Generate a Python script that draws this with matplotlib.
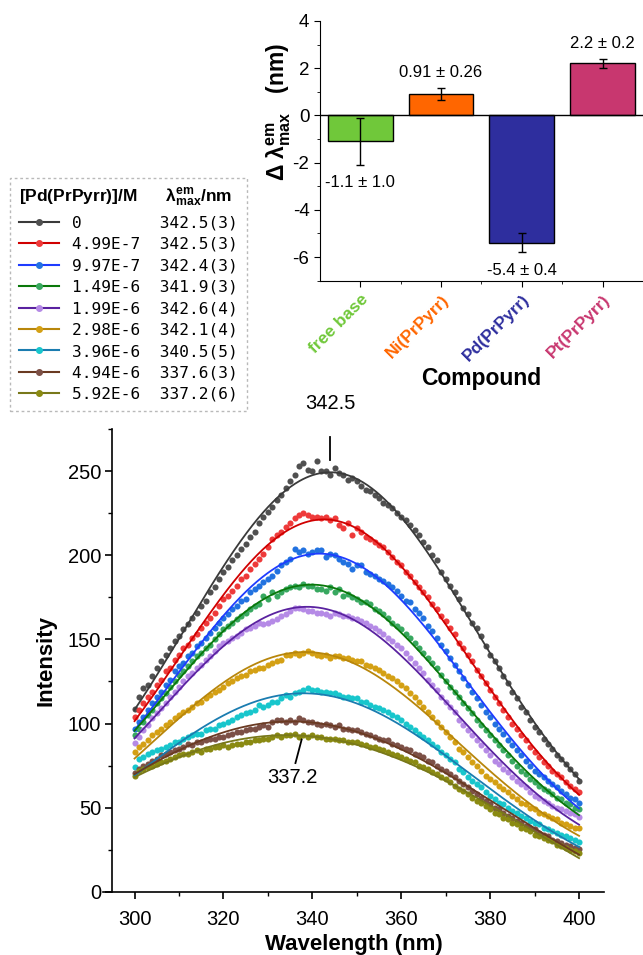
import numpy as np
import matplotlib
matplotlib.use('Agg')
import matplotlib.pyplot as plt
from matplotlib.lines import Line2D

plt.rcParams['font.family'] = ['Liberation Sans', 'DejaVu Sans']
plt.rcParams['mathtext.fontset'] = 'custom'
plt.rcParams['mathtext.rm'] = 'Liberation Sans'
plt.rcParams['mathtext.it'] = 'Liberation Sans:italic'
plt.rcParams['mathtext.bf'] = 'Liberation Sans:bold'
plt.rcParams['axes.unicode_minus'] = False

# ---- emission spectra (Intensity vs wavelength, 1 nm steps) ----
wavelength = np.arange(300, 401)

conc = ['0', '4.99E-7', '9.97E-7', '1.49E-6', '1.99E-6',
        '2.98E-6', '3.96E-6', '4.94E-6', '5.92E-6']
lam_max = ['342.5(3)', '342.5(3)', '342.4(3)', '341.9(3)', '342.6(4)',
           '342.1(4)', '340.5(5)', '337.6(3)', '337.2(6)']

s0 = [108.5, 116, 121, 123, 128, 133, 137, 141, 145, 149,
      152, 156, 159, 163, 166, 170, 173, 178, 181, 186,
      190, 193, 197, 200, 204, 207, 211, 214, 219, 223,
      226, 229, 233, 236, 240, 244, 248, 253, 255, 251,
      250, 256, 250, 250, 248, 252, 249, 248, 245, 246,
      244, 241, 239, 238, 236, 234, 231, 230, 228, 225,
      223, 221, 218, 215, 212, 208, 205, 200, 197, 190,
      186, 182, 178, 174, 169, 165, 160, 157, 152, 146,
      141, 137, 133, 128, 124, 119, 115, 110, 107, 102,
      98, 95, 91, 88, 85, 81, 79, 76, 73, 70, 66]
s1 = [104, 108, 112, 116, 119, 123, 126, 131, 133, 138,
      141, 145, 147, 151, 153, 157, 160, 163, 166, 170,
      174, 176, 179, 182, 186, 188, 192, 195, 198, 201,
      205, 210, 212, 214, 217, 219, 222, 224, 225, 224,
      223, 223, 222, 223, 221, 222, 218, 216, 219, 212,
      216, 214, 211, 210, 208, 206, 205, 202, 199, 196,
      194, 190, 188, 184, 181, 178, 175, 171, 168, 164,
      161, 157, 153, 148, 145, 141, 137, 132, 128, 124,
      120, 116, 112, 108, 104, 100, 97, 93, 90, 86,
      83, 80, 77, 75, 72, 70, 68, 65, 63, 61, 59]
s2 = [96.6, 101, 104, 108, 112, 116, 119, 123, 126, 131,
      134, 136, 140, 142, 146, 148, 151, 154, 157, 160,
      163, 165, 168, 170, 173, 174, 178, 180, 182, 184,
      186, 188, 191, 194, 196, 198, 204, 202, 203, 201,
      202, 203, 203, 199, 201, 200, 198, 196, 195, 192,
      194, 194, 190, 189, 188, 186, 185, 183, 181, 179,
      176, 173, 172, 168, 166, 163, 158, 155, 151, 147,
      143, 139, 135, 131, 127, 123, 119, 115, 111, 107,
      104, 100, 97, 94, 90, 87, 84, 81, 78, 75,
      72, 70, 68, 66, 64, 62, 60, 58, 56, 55, 53]
s3 = [93, 97, 101, 105, 108, 112, 115, 118, 122, 125,
      129, 131, 134, 137, 140, 142, 145, 147, 150, 153,
      156, 158, 160, 162, 164, 166, 168, 170, 171, 176,
      174, 178, 176, 178, 180, 181, 182, 181, 183, 182,
      182, 180, 180, 179, 181, 178, 180, 176, 177, 175,
      174, 172, 172, 171, 168, 167, 165, 163, 160, 158,
      156, 153, 151, 148, 145, 142, 139, 136, 133, 129,
      125, 122, 119, 116, 112, 109, 106, 102, 99, 96,
      93, 90, 87, 84, 81, 78, 75, 72, 70, 67,
      65, 63, 61, 60, 58, 56, 55, 53, 52, 50, 49]
s4 = [88.5, 92, 96, 99, 103, 106, 109, 112, 116, 119,
      122, 125, 128, 130, 133, 135, 138, 140, 143, 146,
      148, 149, 151, 152, 154, 156, 157, 158, 160, 159,
      160, 161, 162, 164, 165, 167, 169, 169, 168, 167,
      167, 166, 166, 165, 164, 166, 165, 164, 164, 163,
      162, 161, 160, 158, 157, 155, 153, 151, 149, 147,
      145, 142, 139, 136, 133, 130, 126, 123, 120, 116,
      113, 110, 107, 102, 99, 96, 93, 90, 87, 84,
      81, 78, 76, 73, 71, 68, 66, 64, 62, 59,
      57, 56, 54, 53, 51, 50, 49, 48, 47, 46, 44.6]
s5 = [83, 86, 88, 90, 93, 95, 97, 99, 101, 103,
      105, 107, 108, 110, 112, 113, 115, 117, 119, 120,
      122, 124, 125, 127, 128, 129, 131, 132, 133, 133,
      135, 136, 137, 138, 141, 141, 142, 141, 142, 143,
      142, 141, 140, 141, 139, 140, 140, 139, 139, 138,
      137, 137, 135, 134, 133, 132, 130, 128, 127, 125,
      123, 121, 118, 116, 113, 110, 107, 104, 101, 98,
      95, 92, 89, 85, 83, 80, 77, 75, 72, 69,
      67, 65, 63, 61, 59, 57, 55, 53, 52, 50,
      49, 47, 46, 45, 44, 43, 41, 40, 39, 38, 37.7]
s6 = [74.4, 79, 80, 82, 83, 84, 85, 86, 87, 89,
      89, 91, 92, 93, 94, 94, 96, 97, 97, 99,
      100, 101, 102, 104, 105, 106, 107, 108, 111, 110,
      111, 113, 113, 115, 117, 116, 118, 119, 120, 121,
      120, 120, 119, 119, 118, 118, 117, 116, 116, 115,
      115, 113, 113, 111, 110, 109, 108, 107, 105, 104,
      102, 100, 98, 96, 94, 92, 90, 88, 86, 83,
      81, 79, 77, 73, 71, 68, 66, 64, 62, 59,
      57, 55, 53, 52, 50, 48, 47, 45, 44, 42,
      41, 40, 38, 37, 36, 35, 34, 33, 32, 31, 29.8]
s7 = [70.4, 73, 75, 76, 78, 79, 81, 82, 83, 84,
      85, 86, 88, 87, 89, 89, 90, 91, 91, 92,
      92, 93, 94, 95, 95, 96, 97, 97, 98, 99,
      98, 101, 102, 102, 101, 102, 101, 103, 102, 101,
      101, 100, 99, 100, 99, 98, 99, 97, 97, 96,
      96, 95, 94, 93, 92, 91, 90, 90, 88, 87,
      86, 85, 84, 82, 81, 80, 78, 77, 75, 73,
      72, 70, 68, 66, 64, 62, 60, 58, 56, 54,
      52, 50, 49, 47, 45, 44, 42, 41, 39, 38,
      37, 35, 34, 33, 31, 30, 29, 28, 27, 26, 25.2]
s8 = [68.8, 72, 73, 74, 75, 76, 77, 78, 79, 80,
      81, 82, 82, 83, 84, 83, 85, 85, 86, 86,
      87, 86, 87, 88, 88, 89, 89, 90, 90, 91,
      91, 92, 93, 92, 93, 93, 94, 92, 93, 92,
      93, 92, 92, 91, 91, 91, 90, 90, 89, 89,
      89, 88, 87, 86, 86, 85, 84, 83, 82, 81,
      80, 79, 78, 77, 75, 74, 73, 71, 70, 68,
      67, 65, 63, 61, 60, 58, 56, 54, 53, 51,
      49, 47, 46, 44, 43, 41, 40, 38, 37, 36,
      34, 33, 32, 31, 30, 28, 27, 26, 25, 24, 23.2]
spectra = [s0, s1, s2, s3, s4, s5, s6, s7, s8]

point_colors = ['#505050', '#EE3A3A', '#2272E0', '#38A860', '#B58AE6',
                '#D4A014', '#18C6CC', '#7C5046', '#8A8A12']
fit_colors = ['#3A3A3A', '#D00000', '#1E3CFF', '#0A780A', '#5A22A0',
              '#B8860B', '#1A7CB0', '#6A3A22', '#78781A']

# ---- wavelength shift bar chart ----
compounds = ['free base', 'Ni(PrPyrr)', 'Pd(PrPyrr)', 'Pt(PrPyrr)']
shift = [-1.1, 0.91, -5.4, 2.2]
shift_err = [1.0, 0.26, 0.4, 0.2]
shift_txt = ['-1.1 ± 1.0', '0.91 ± 0.26', '-5.4 ± 0.4', '2.2 ± 0.2']
bar_colors = ['#70C83A', '#FF6600', '#2E2E9E', '#C8376F']


def gauss_fit(x, y):
    # gaussian + constant baseline, least squares over a grid of centre/width
    x = np.asarray(x, float)
    y = np.asarray(y, float)
    ym = y.mean()
    syy = ((y - ym) ** 2).sum()
    cs = np.arange(600.0, 9000.0, 20.0)
    best = (np.inf, None)
    for xc in np.arange(325.0, 355.0, 0.2):
        g = np.exp(-((x - xc) ** 2)[None, :] / cs[:, None])
        gm = g.mean(1)
        dg = g - gm[:, None]
        cov = (dg * (y - ym)).sum(1)
        var = (dg ** 2).sum(1)
        sse = syy - cov ** 2 / var
        i = np.argmin(sse)
        if sse[i] < best[0]:
            b = cov[i] / var[i]
            best = (sse[i], (xc, cs[i], ym - b * gm[i], b))
    return best[1]


fig = plt.figure(figsize=(6.43, 9.55), dpi=100)

# ---------------- main spectra axes ----------------
ax = fig.add_axes([0.1608, 0.0663, 0.7778, 0.4842])
xx = np.linspace(300, 400, 400)
for y, pc in zip(spectra, point_colors):
    ax.plot(wavelength, y, 'o', ms=4.4, color=pc, mew=0, zorder=2)
for y, fc in zip(spectra, fit_colors):
    xc, c, a, b = gauss_fit(wavelength, y)
    ax.plot(xx, a + b * np.exp(-(xx - xc) ** 2 / c), '-', color=fc, lw=1.3, zorder=3)

ax.set_xlim(293, 405.5)
ax.set_ylim(0, 275)
ax.spines['left'].set_position(('data', 295))
ax.spines['top'].set_visible(False)
ax.spines['right'].set_visible(False)
for s in ['left', 'bottom']:
    ax.spines[s].set_linewidth(1.2)
ax.set_xticks(np.arange(300, 401, 20))
ax.set_xticks(np.arange(310, 400, 20), minor=True)
ax.set_yticks(np.arange(0, 251, 50))
ax.set_yticks(np.arange(25, 276, 50), minor=True)
ax.tick_params(which='major', direction='out', length=5, width=1.2, labelsize=14.5, pad=3)
ax.tick_params(axis='x', which='major', pad=8)
ax.tick_params(which='minor', direction='out', length=3, width=1.0)
ax.set_xlabel('Wavelength (nm)', fontsize=16, fontweight='bold', labelpad=4)
ax.set_ylabel('Intensity', fontsize=16, fontweight='bold', labelpad=8)

ax.plot([344.0, 344.0], [256.5, 270.5], color='black', lw=1.3, clip_on=False)
ax.text(344.0, 290.5, '342.5', ha='center', va='center', fontsize=14.5, clip_on=False)
ax.plot([337.6, 336.2], [90.5, 76.5], color='black', lw=1.3)
ax.text(335.5, 68.0, '337.2', ha='center', va='center', fontsize=14.5)

# ---------------- legend ----------------
handles = [Line2D([], [], color=fc, lw=1.5, marker='o', ms=4, mfc=pc, mec=pc)
           for pc, fc in zip(point_colors, fit_colors)]
labels = [f'{c:<9}{l}' for c, l in zip(conc, lam_max)]
leg = fig.legend(handles, labels, loc='upper left',
                 bbox_to_anchor=(10 / 643, 1 - 178 / 955), borderaxespad=0,
                 title=r'[Pd(PrPyrr)]/M      $\mathbf{\lambda^{em}_{max}}$/nm',
                 title_fontproperties={'family': 'Liberation Sans', 'weight': 'bold', 'size': 12.5},
                 prop={'family': 'DejaVu Sans Mono', 'size': 11.6},
                 alignment='left', fancybox=False, frameon=True,
                 handlelength=2.5, handletextpad=0.8, labelspacing=0.4,
                 borderpad=0.55)
fr = leg.get_frame()
fr.set_linestyle((0, (2, 2)))
fr.set_edgecolor('#A8A8A8')
fr.set_linewidth(1.0)

# ---------------- bar chart ----------------
bx = fig.add_axes([0.4974, 0.7061, 0.5026, 0.2720])
pos = np.arange(len(compounds))
bx.bar(pos, shift, width=0.8, color=bar_colors, edgecolor='black', lw=1.0, zorder=2)
bx.errorbar(pos, shift, yerr=shift_err, fmt='none', ecolor='black', elinewidth=1.0,
            capsize=3, capthick=1.0, zorder=3)
bx.axhline(0, color='black', lw=1.0, zorder=4)
for p, v, e, t in zip(pos, shift, shift_err, shift_txt):
    yt = v + e + 0.65 if v > 0 else v - e - 0.76
    bx.text(p, yt, t, ha='center', va='center', fontsize=12)
bx.set_xlim(-0.5, 3.5)
bx.set_ylim(-7, 4)
bx.spines['top'].set_visible(False)
bx.spines['right'].set_visible(False)
bx.set_yticks(np.arange(-6, 5, 2))
bx.set_yticks(np.arange(-7, 5, 1), minor=True)
bx.set_xticks(pos)
bx.set_xticks(pos[:-1] + 0.5, minor=True)
bx.set_xticklabels(compounds, rotation=45, ha='right', rotation_mode='anchor',
                   fontsize=12.5, fontweight='bold')
for lab, c in zip(bx.get_xticklabels(), bar_colors):
    lab.set_color(c)
bx.tick_params(which='major', direction='out', length=4, labelsize=13.5)
bx.tick_params(axis='x', which='major', labelsize=12.5, pad=4)
bx.tick_params(which='minor', direction='out', length=2.5)
bx.set_xlabel('Compound', fontsize=16.5, fontweight='bold', labelpad=2)
bx.set_ylabel(r'$\mathbf{\Delta\ \lambda^{em}_{max}}$   (nm)', fontsize=16.5,
              fontweight='bold')
bx.yaxis.set_label_coords(-0.083, 0.649)

fig.savefig('out.png', dpi=100)
